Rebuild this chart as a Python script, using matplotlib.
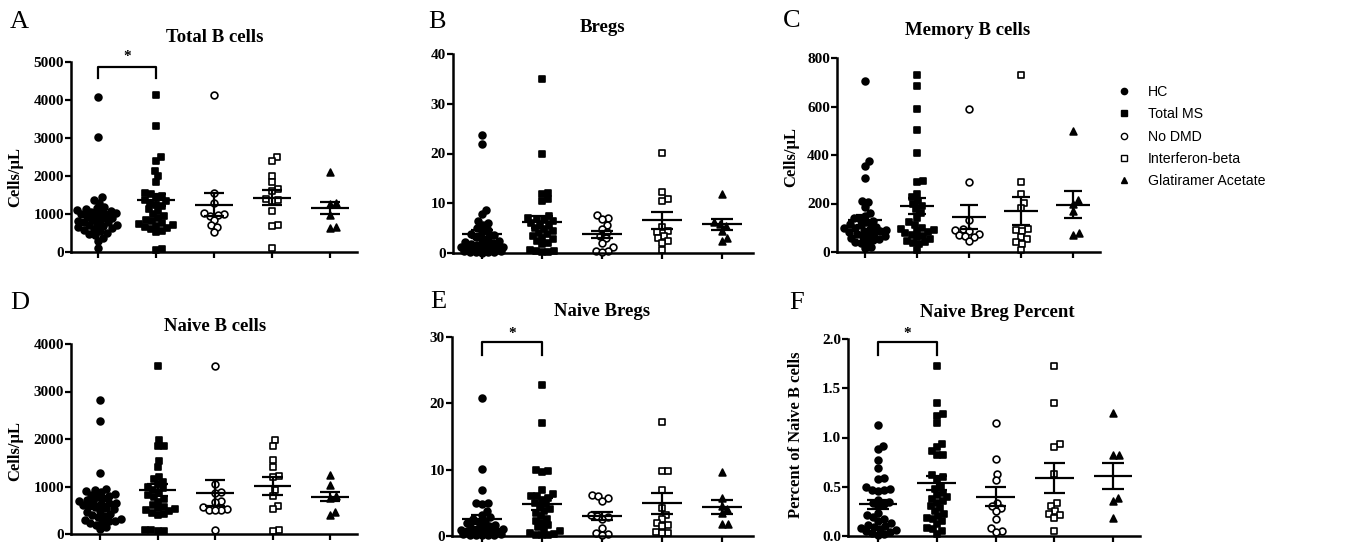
import numpy as np
import matplotlib.pyplot as plt
from matplotlib.lines import Line2D

plt.rcParams['font.family'] = ['Liberation Serif', 'DejaVu Serif']
plt.rcParams['font.weight'] = 'bold'

groups = ["HC", "Total MS", "No DMD", "Interferon-beta", "Glatiramer Acetate"]

# A - Total B cells (HC, Total MS, No DMD, IFN-beta, GA)
total_b = [
    [4070, 3030, 1450, 1360, 1300, 1180, 1150, 1120, 1100, 1080, 1060, 1040, 1020, 1000, 980, 960,
     940, 900, 870, 840, 820, 800, 780, 750, 720, 700, 680, 650, 620, 600, 570, 540, 510, 480, 440,
     380, 300, 100],
    [4130, 3310, 2490, 2400, 2130, 1990, 1840, 1560, 1520, 1480, 1420, 1380, 1340, 1300, 1250, 1200,
     1130, 1080, 1000, 950, 900, 850, 820, 760, 730, 700, 690, 670, 640, 600, 540, 520, 70, 60],
    [4130, 1550, 1280, 1020, 1000, 980, 960, 840, 700, 660, 520],
    [2490, 2400, 2000, 1830, 1650, 1600, 1400, 1360, 1330, 1090, 720, 680, 100],
    [2110, 1300, 1270, 980, 640, 660],
]
total_b_mean = [935, 1370, 1245, 1425, 1160]
total_b_sem = [105, 150, 300, 200, 165]

# B - Bregs
bregs = [
    [23.8, 21.9, 8.7, 7.8, 6.5, 6.1, 5.6, 5.0, 4.6, 4.2, 3.9, 3.6, 3.3, 3.0, 2.8, 2.5, 2.3, 2.1, 1.9,
     1.7, 1.6, 1.5, 1.3, 1.2, 1.1, 1.0, 0.9, 0.8, 0.7, 0.6, 0.5, 0.4, 0.3, 0.3, 0.2, 0.2, 0.1],
    [35.0, 20.0, 12.1, 11.8, 10.8, 10.4, 7.5, 7.1, 6.9, 6.6, 6.4, 6.1, 5.8, 5.5, 5.1, 4.8, 4.5, 4.1,
     3.8, 3.5, 3.1, 2.8, 2.5, 2.1, 1.8, 0.6, 0.5, 0.4, 0.3, 0.2],
    [7.6, 7.1, 6.8, 5.6, 4.8, 4.2, 3.5, 3.0, 2.0, 1.2, 0.5, 0.4, 0.3],
    [20.1, 12.2, 10.9, 10.5, 5.3, 4.5, 4.2, 3.5, 3.0, 2.5, 2.0, 0.6],
    [11.8, 6.2, 5.9, 5.5, 4.5, 3.0, 2.4],
]
bregs_mean = [3.8, 6.2, 3.8, 6.6, 5.8]
bregs_sem = [0.8, 1.2, 0.7, 1.7, 1.1]

# C - Memory B cells
memory_b = [
    [706, 374, 353, 305, 210, 207, 185, 162, 150, 142, 135, 128, 122, 116, 110, 105, 100, 98, 94, 90,
     88, 85, 82, 78, 75, 70, 66, 62, 58, 54, 50, 45, 40, 36, 20, 15],
    [731, 686, 590, 505, 410, 292, 290, 240, 225, 212, 200, 190, 178, 162, 142, 122, 110, 100, 95, 90,
     86, 82, 77, 72, 66, 60, 55, 45, 40, 38, 34, 10],
    [590, 290, 130, 95, 92, 88, 76, 72, 65, 60, 45],
    [731, 290, 240, 202, 180, 95, 90, 85, 60, 52, 40, 35, 10],
    [500, 215, 200, 170, 80, 70],
]
memory_b_mean = [132, 188, 144, 170, 195]
memory_b_sem = [20, 33, 48, 58, 56]

# D - Naive B cells
naive_b = [
    [2830, 2375, 1280, 950, 920, 900, 880, 850, 820, 800, 780, 750, 720, 700, 680, 660, 650, 630, 610,
     590, 570, 550, 520, 490, 460, 430, 400, 380, 350, 320, 300, 280, 265, 250, 230, 200, 150, 100],
    [3545, 1975, 1860, 1850, 1545, 1420, 1200, 1150, 1100, 1050, 1000, 960, 920, 870, 820, 780, 730,
     680, 620, 570, 540, 520, 500, 480, 450, 420, 400, 80, 80, 70, 60],
    [3545, 1050, 880, 860, 700, 680, 560, 520, 500, 500, 500, 80],
    [1980, 1860, 1550, 1420, 1220, 1200, 920, 800, 580, 520, 80, 70],
    [1240, 1030, 800, 760, 470, 400],
]
naive_b_mean = [635, 935, 865, 1005, 785]
naive_b_sem = [90, 125, 275, 190, 100]

# E - Naive Bregs
naive_bregs = [
    [20.8, 10.1, 7.0, 5.0, 4.9, 4.8, 3.8, 3.2, 2.8, 2.5, 2.3, 2.1, 1.9, 1.7, 1.5, 1.4, 1.2, 1.1, 1.0,
     0.9, 0.8, 0.7, 0.6, 0.5, 0.5, 0.4, 0.3, 0.3, 0.2, 0.2, 0.1, 0.1, 0.1],
    [22.7, 17.1, 9.9, 9.7, 9.8, 7.0, 6.3, 6.1, 6.0, 5.8, 5.5, 5.0, 4.8, 4.5, 4.1, 3.8, 3.5, 3.0, 2.6,
     2.3, 2.0, 1.6, 1.3, 1.0, 0.7, 0.5, 0.3, 0.2, 0.1, 0.1],
    [6.2, 6.0, 5.7, 5.3, 3.2, 3.0, 2.8, 2.5, 1.2, 0.5, 0.3, 0.1],
    [17.2, 9.8, 9.8, 7.0, 4.2, 3.2, 2.5, 2.0, 1.7, 1.5, 0.6, 0.5, 0.4],
    [9.6, 5.7, 4.5, 4.0, 3.5, 1.8, 1.8],
]
naive_bregs_mean = [2.5, 4.8, 3.0, 4.9, 4.4]
naive_bregs_sem = [0.7, 0.9, 0.65, 1.55, 1.1]

# F - Naive Breg percent
breg_pct = [
    [1.13, 0.91, 0.88, 0.77, 0.69, 0.59, 0.58, 0.50, 0.48, 0.47, 0.47, 0.46, 0.37, 0.35, 0.33, 0.32,
     0.30, 0.23, 0.21, 0.19, 0.17, 0.15, 0.13, 0.11, 0.10, 0.09, 0.08, 0.07, 0.06, 0.05, 0.04, 0.03,
     0.02, 0.01],
    [1.73, 1.35, 1.24, 1.22, 1.15, 0.93, 0.90, 0.86, 0.82, 0.82, 0.62, 0.60, 0.58, 0.50, 0.48, 0.44,
     0.42, 0.40, 0.38, 0.36, 0.34, 0.30, 0.28, 0.25, 0.22, 0.20, 0.18, 0.17, 0.15, 0.12, 0.08, 0.07,
     0.05, 0.02],
    [1.15, 0.78, 0.63, 0.57, 0.33, 0.30, 0.28, 0.25, 0.17, 0.08, 0.05, 0.04],
    [1.73, 1.35, 0.93, 0.90, 0.63, 0.33, 0.30, 0.25, 0.22, 0.21, 0.18, 0.05],
    [1.25, 0.82, 0.82, 0.39, 0.36, 0.18],
]
breg_pct_mean = [0.32, 0.54, 0.40, 0.59, 0.61]
breg_pct_sem = [0.045, 0.07, 0.10, 0.155, 0.135]

W, H = 1348, 544
fig = plt.figure(figsize=(W / 100, H / 100), dpi=100)

mk = ['o', 's', 'o', 's', '^']
fc = ['k', 'k', 'white', 'white', 'k']


def swarm(ax, x0, vals, d=6.2, wmax=21):
    # greedy beeswarm in pixel space; when too crowded, pick least-overlapping spot
    pix = ax.transData.transform(np.column_stack([np.full(len(vals), x0, float), vals]))
    ys = pix[:, 1]
    xs = np.zeros(len(vals))
    placed = []
    for i in np.argsort(ys):
        y = ys[i]
        cands = [0.0]
        for px, py in placed:
            dy = y - py
            if abs(dy) < d:
                dx = np.sqrt(d * d - dy * dy)
                cands += [px + dx, px - dx]
        cands = [c for c in cands if abs(c) <= wmax]
        cands.sort(key=abs)
        best = None
        for c in cands:
            if all((c - px) ** 2 + (y - py) ** 2 >= d * d - 1e-6 for px, py in placed):
                best = c
                break
        if best is None:
            grid = np.linspace(-wmax, wmax, 43)
            score = [min((g - px) ** 2 + (y - py) ** 2 for px, py in placed) for g in grid]
            best = grid[int(np.argmax(score))]
        xs[i] = best
        placed.append((best, y))
    ppu = ax.transData.transform([[1, 0]])[0, 0] - ax.transData.transform([[0, 0]])[0, 0]
    return x0 + xs / ppu


def panel(box, g0, step, data, means, sems, ymax, ystep, fmt, title, tpos, letter, lpos,
          ylab=None, ylpos=None, sig=None):
    left, top, right, bottom = box
    ax = fig.add_axes([left / W, 1 - bottom / H, (right - left) / W, (bottom - top) / H])
    ax.set_xlim((left - g0) / step, (right - g0) / step)
    ax.set_ylim(0, ymax)
    for s in ['top', 'right']:
        ax.spines[s].set_visible(False)
    for s in ['left', 'bottom']:
        ax.spines[s].set_linewidth(1.8)
    ax.set_xticks(range(5))
    ax.set_xticklabels([])
    ax.set_yticks(np.arange(0, ymax + ystep / 2, ystep))
    ax.yaxis.set_major_formatter(plt.FormatStrFormatter(fmt))
    ax.tick_params(direction='out', length=4, width=1.6, labelsize=11, pad=1)
    for lab in ax.get_yticklabels():
        lab.set_fontweight('bold')
    for k in range(5):
        xs = swarm(ax, k, data[k])
        ax.scatter(xs, data[k], marker=mk[k], s=24, facecolors=fc[k], edgecolors='k',
                   linewidths=1.2, clip_on=False, zorder=2)
        m, e = means[k], sems[k]
        ax.hlines(m, k - 0.33, k + 0.33, colors='k', lw=1.6, zorder=3)
        ax.vlines(k, m - e, m + e, colors='k', lw=1.6, zorder=3)
        ax.hlines([m - e, m + e], k - 0.18, k + 0.18, colors='k', lw=1.6, zorder=3)
    if sig:
        y0, y1, ys = sig
        ax.plot([0, 0, 1, 1], [y0, y1, y1, y0], color='k', lw=1.6, clip_on=False)
        ax.text(0.5, ys, '*', ha='center', va='center', fontsize=11, clip_on=False)
    fig.text(tpos[0] / W, 1 - tpos[1] / H, title, ha='center', va='baseline', fontsize=13.5,
             fontweight='bold')
    fig.text(lpos[0] / W, 1 - lpos[1] / H, letter, ha='left', va='baseline', fontsize=19,
             fontweight='normal')
    if ylab:
        ax.set_ylabel(ylab, fontsize=12, fontweight='bold')
        ax.yaxis.set_label_coords((ylpos[0] - left) / (right - left), (bottom - ylpos[1]) / (bottom - top))
    return ax


panel((71, 62, 357, 252), 98, 58, total_b, total_b_mean, total_b_sem, 5000, 1000, '%d',
      'Total B cells', (215, 42), 'A', (10, 28), 'Cells/µL', (23, 177), (4580, 4870, 5150))
panel((453, 54, 753, 253), 482, 60, bregs, bregs_mean, bregs_sem, 40, 10, '%d',
      'Bregs', (603, 32), 'B', (428, 28))
panel((837, 58, 1100, 252), 865, 52, memory_b, memory_b_mean, memory_b_sem, 800, 200, '%d',
      'Memory B cells', (968, 35), 'C', (783, 27), 'Cells/µL', (799, 157))
panel((71, 344, 357, 534), 100, 57.5, naive_b, naive_b_mean, naive_b_sem, 4000, 1000, '%d',
      'Naive B cells', (215, 331), 'D', (10, 309), 'Cells/µL', (23, 451))
panel((452, 337, 753, 536), 482, 60, naive_bregs, naive_bregs_mean, naive_bregs_sem, 30, 10, '%d',
      'Naive Bregs', (602, 316), 'E', (430, 308), None, None, (27.3, 29.2, 30.6))
panel((848, 339, 1140, 536), 878, 58.75, breg_pct, breg_pct_mean, breg_pct_sem, 2.0, 0.5, '%.1f',
      'Naive Breg Percent', (997, 317), 'F', (789, 309), 'Percent of Naive B cells', (804, 435),
      (1.84, 1.966, 2.06))

handles = [Line2D([], [], ls='none', marker=mk[k], markersize=4.5, markerfacecolor=fc[k],
                  markeredgecolor='k', markeredgewidth=1.0) for k in range(5)]
fig.legend(handles, groups, loc='upper left', bbox_to_anchor=(1108 / W, 1 - 78 / H), frameon=False,
           prop={'family': 'Liberation Sans', 'size': 10.2, 'weight': 'normal'},
           handlelength=1.2, handletextpad=1.1, labelspacing=0.58, borderpad=0)

fig.savefig('out.png', dpi=100)
